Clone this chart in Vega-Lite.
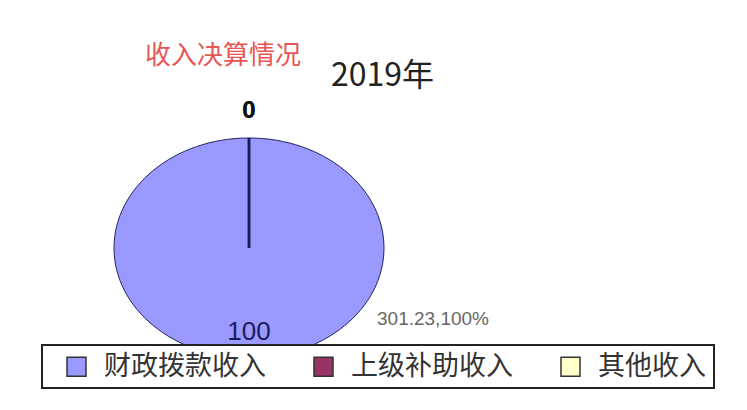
{
  "$schema": "https://vega.github.io/schema/vega-lite/v6.json",
  "width": 498,
  "height": 300,
  "autosize": {"type": "none"},
  "padding": {"left": 0, "top": 98, "right": 249, "bottom": 12},
  "background": "white",
  "title": {
    "text": "收入决算情况",
    "subtitle": "2019年",
    "anchor": "start",
    "frame": "group",
    "orient": "top",
    "offset": 6,
    "font": "Noto Sans CJK SC",
    "fontSize": 26,
    "fontWeight": "normal",
    "color": "#e85555",
    "subtitleFont": "Noto Sans CJK SC",
    "subtitleFontSize": 32,
    "subtitleColor": "#222222",
    "subtitlePadding": -8
  },
  "config": {
    "view": {"stroke": null},
    "style": {"group-title": {"dx": 145}, "group-subtitle": {"dx": 331}},
    "legend": {"strokeWidth": 2}
  },
  "data": {
    "values": [
      {"category": "财政拨款收入", "value": 301.23, "percent": 100},
      {"category": "上级补助收入", "value": 0, "percent": 0},
      {"category": "其他收入", "value": 0, "percent": 0}
    ]
  },
  "layer": [
    {
      "transform": [{"filter": "datum.value > 0"}],
      "mark": {
        "type": "point",
        "shape": "M-1,0A1,0.815,0,1,0,1,0A1,0.815,0,1,0,-1,0Z",
        "size": 72900,
        "filled": true,
        "opacity": 1,
        "stroke": "#23235e",
        "strokeWidth": 1
      },
      "encoding": {
        "color": {
          "field": "category",
          "type": "nominal",
          "scale": {
            "domain": ["财政拨款收入", "上级补助收入", "其他收入"],
            "range": ["#9999ff", "#993366", "#ffffcc"]
          },
          "legend": {
            "orient": "none",
            "legendX": 42,
            "legendY": 247,
            "direction": "horizontal",
            "columns": 3,
            "title": null,
            "symbolType": "square",
            "symbolSize": 361,
            "symbolStrokeColor": "#333333",
            "symbolStrokeWidth": 1.5,
            "symbolOpacity": 1,
            "symbolOffset": 13,
            "labelFont": "Noto Sans CJK SC",
            "labelFontSize": 27,
            "labelColor": "#333333",
            "labelOffset": 14,
            "labelLimit": 400,
            "columnPadding": 31,
            "padding": 8,
            "strokeColor": "#222222",
            "fillColor": "white"
          }
        }
      }
    },
    {
      "mark": {"type": "arc", "outerRadius": 110, "innerRadius": 0, "fillOpacity": 0, "stroke": "#1a1a5a", "strokeWidth": 2.5},
      "encoding": {
        "theta": {"field": "value", "type": "quantitative", "stack": true},
        "strokeOpacity": {"condition": {"test": "datum.value == 0", "value": 1}, "value": 0}
      }
    },
    {
      "transform": [{"filter": "datum.value == 0"}],
      "mark": {"type": "text", "radius": 137, "font": "Liberation Sans", "fontSize": 24, "fontWeight": "bold", "color": "#111111", "baseline": "middle", "align": "center"},
      "encoding": {
        "theta": {"field": "value", "type": "quantitative", "stack": true},
        "text": {"field": "percent", "type": "quantitative"}
      }
    },
    {
      "transform": [{"filter": "datum.value > 0"}],
      "mark": {"type": "text", "radius": 84, "font": "Liberation Sans", "fontSize": 26, "color": "#1c1c5c", "baseline": "middle", "align": "center"},
      "encoding": {
        "theta": {"field": "value", "type": "quantitative", "stack": true},
        "text": {"field": "percent", "type": "quantitative"}
      }
    },
    {
      "transform": [
        {"filter": "datum.value > 0"},
        {"calculate": "format(datum.value, '.2f') + ',' + datum.percent + '%'", "as": "label"}
      ],
      "mark": {"type": "text", "radius": 71, "dx": 184, "font": "Liberation Sans", "fontSize": 19, "color": "#666666", "baseline": "middle", "align": "center"},
      "encoding": {
        "theta": {"field": "value", "type": "quantitative", "stack": true},
        "text": {"field": "label", "type": "nominal"}
      }
    }
  ]
}
